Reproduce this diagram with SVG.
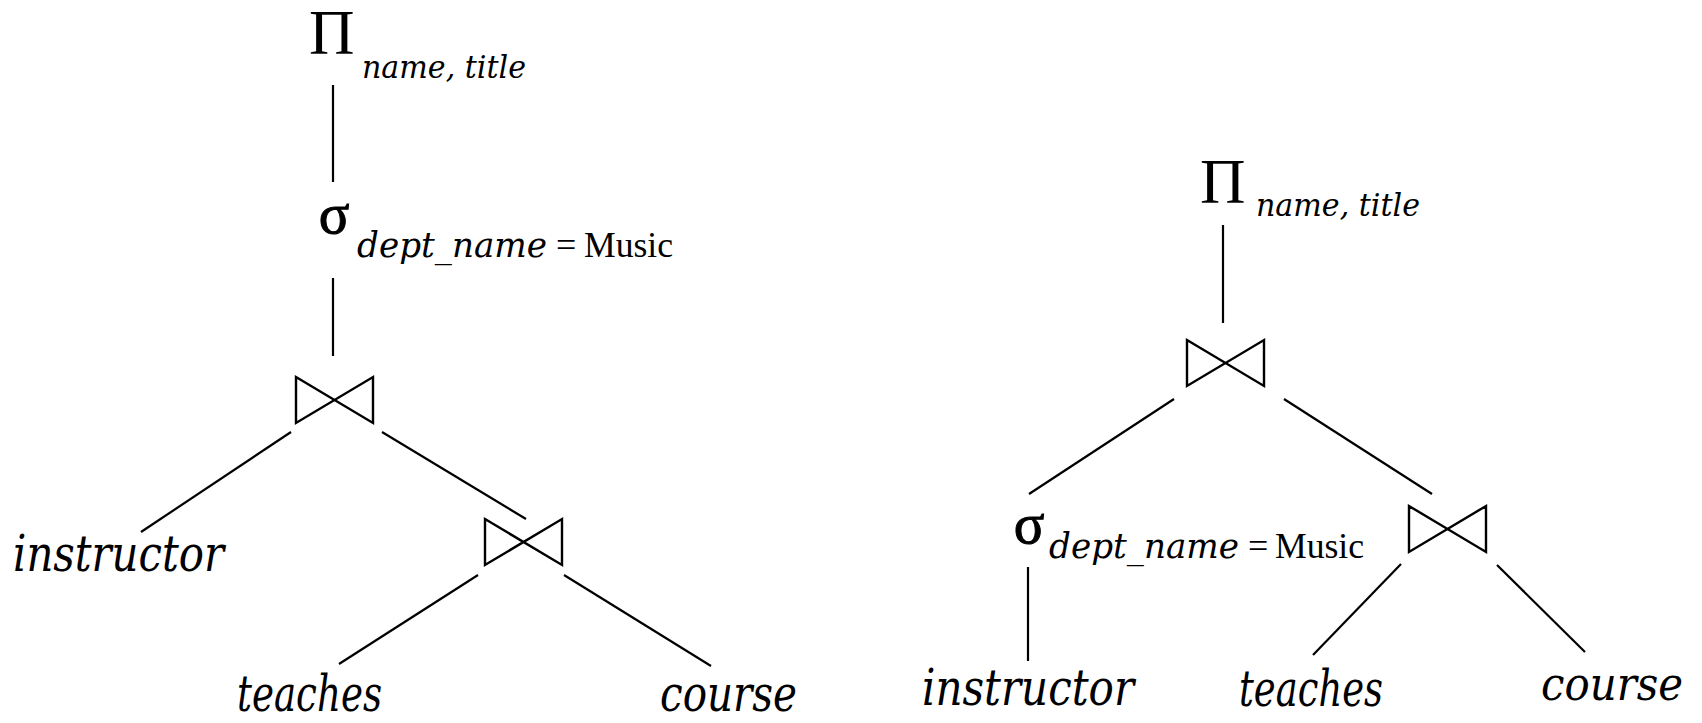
<svg xmlns="http://www.w3.org/2000/svg" width="1702" height="723" viewBox="0 0 1702 723">
<style>
.ln{stroke:#000;stroke-width:2.2;fill:none;stroke-linecap:butt}
.bt{stroke:#000;stroke-width:2.4;fill:none;stroke-linejoin:miter}
.op{font-family:"Liberation Serif","Times New Roman",serif;fill:#000}
.sg{font-family:"Liberation Serif","Times New Roman",serif;fill:#000;stroke:#000;stroke-width:1;text-anchor:middle}
.it{font-family:"DejaVu Serif","Liberation Serif",serif;font-style:italic;fill:#000}
.rm{font-family:"Liberation Serif","Times New Roman",serif;fill:#000}
</style>
<defs>
<path id="bowtie" class="bt" d="M0,0 L77,46 L77,0 L0,46 Z"/>
</defs>
<rect width="1702" height="723" fill="#fff"/>
<g id="connectors">
<line class="ln" x1="333" y1="85" x2="333" y2="182"/>
<line class="ln" x1="333" y1="278" x2="333" y2="356"/>
<line class="ln" x1="291" y1="432" x2="141" y2="532"/>
<line class="ln" x1="382" y1="432" x2="526" y2="519"/>
<line class="ln" x1="478" y1="575" x2="339" y2="664"/>
<line class="ln" x1="564" y1="575" x2="711" y2="666"/>
<line class="ln" x1="1223" y1="225" x2="1223" y2="323"/>
<line class="ln" x1="1174" y1="399" x2="1029" y2="494"/>
<line class="ln" x1="1284" y1="399" x2="1432" y2="494"/>
<line class="ln" x1="1028" y1="567" x2="1028" y2="661"/>
<line class="ln" x1="1401" y1="564" x2="1313" y2="655"/>
<line class="ln" x1="1497" y1="565" x2="1585" y2="652"/>
</g>
<g id="L_project">
<text class="op" x="309" y="54" font-size="63">Π</text>
<text class="it" x="362" y="78" font-size="31" textLength="164" lengthAdjust="spacingAndGlyphs">name, title</text>
</g>
<g id="L_select">
<text class="sg" x="334" y="233" font-size="57">σ</text>
<text class="it" x="357" y="257" font-size="36" textLength="190" lengthAdjust="spacingAndGlyphs">dept_name</text>
<text class="rm" x="556" y="257" font-size="36">=</text>
<text class="rm" x="584" y="257" font-size="36" textLength="89" lengthAdjust="spacingAndGlyphs">Music</text>
</g>
<g id="L_join1"><use href="#bowtie" x="296" y="377"/></g>
<g id="L_instructor"><text class="it" x="13" y="571" font-size="50" textLength="211" lengthAdjust="spacingAndGlyphs">instructor</text></g>
<g id="L_join2"><use href="#bowtie" x="485" y="519"/></g>
<g id="L_teaches"><text class="it" x="237" y="711" font-size="50" textLength="145" lengthAdjust="spacingAndGlyphs">teaches</text></g>
<g id="L_course"><text class="it" x="660" y="711" font-size="50" textLength="137" lengthAdjust="spacingAndGlyphs">course</text></g>

<g id="R_project">
<text class="op" x="1200" y="203" font-size="63">Π</text>
<text class="it" x="1256" y="216" font-size="31" textLength="164" lengthAdjust="spacingAndGlyphs">name, title</text>
</g>
<g id="R_join1"><use href="#bowtie" x="1187" y="340"/></g>
<g id="R_select">
<text class="sg" x="1029" y="543" font-size="57">σ</text>
<text class="it" x="1049" y="558" font-size="36" textLength="190" lengthAdjust="spacingAndGlyphs">dept_name</text>
<text class="rm" x="1248" y="558" font-size="36">=</text>
<text class="rm" x="1275" y="558" font-size="36" textLength="89" lengthAdjust="spacingAndGlyphs">Music</text>
</g>
<g id="R_join2"><use href="#bowtie" x="1409" y="506"/></g>
<g id="R_instructor"><text class="it" x="922" y="705" font-size="50" textLength="212" lengthAdjust="spacingAndGlyphs">instructor</text></g>
<g id="R_teaches"><text class="it" x="1239" y="706" font-size="50" textLength="144" lengthAdjust="spacingAndGlyphs">teaches</text></g>
<g id="R_course"><text class="it" x="1541" y="700" font-size="46" textLength="142" lengthAdjust="spacingAndGlyphs">course</text></g>
</svg>
